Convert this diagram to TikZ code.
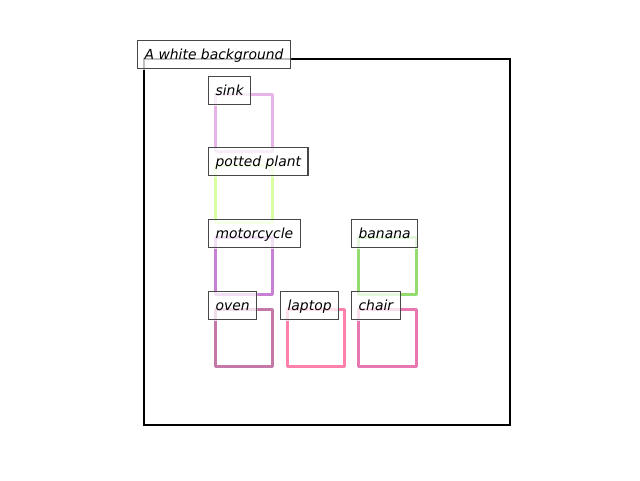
\documentclass[tikz,border=0pt]{standalone}
\usepackage{fontspec}
\setmainfont{DejaVu Sans}
\definecolor{csink}{HTML}{E8B4E8}
\definecolor{cplant}{HTML}{D8FFA0}
\definecolor{cmoto}{HTML}{C880D4}
\definecolor{coven}{HTML}{C478A8}
\definecolor{claptop}{HTML}{FF80A8}
\definecolor{cchair}{HTML}{E878B2}
\definecolor{cbanana}{HTML}{94DC70}
\newcommand\myrects[1]{%
  \draw[frame,draw=black!#1] (144,59) rectangle (510,425);
  \draw[objbox,draw=csink!#1] (215,94) rectangle (272,151);
  \draw[objbox,draw=cplant!#1] (215,165) rectangle (272,222);
  \draw[objbox,draw=cmoto!#1] (215,237) rectangle (272,294);
  \draw[objbox,draw=coven!#1] (215,309) rectangle (272,366);
  \draw[objbox,draw=claptop!#1] (287,309) rectangle (344,366);
  \draw[objbox,draw=cchair!#1] (358,309) rectangle (416,366);
  \draw[objbox,draw=cbanana!#1] (358,237) rectangle (416,294);}
\newcommand\mylab[3]{%
  \node[lbl,fill=white,draw=none,text opacity=0] (#1) at (#2) {#3};
  \begin{scope}
    \clip (#1.south west) rectangle (#1.north east);
    \myrects{25}
  \end{scope}
  \node[lbl] (#1-t) at (#2) {#3};}
\begin{document}
\begin{tikzpicture}[x=1pt,y=-1pt,
  frame/.style={draw=black,line width=2.4pt},
  objbox/.style={line width=3pt,line join=round},
  lbl/.style={draw=black!72,line width=1.2pt,
    anchor=north west,inner xsep=7pt,inner ysep=0pt,text height=18.5pt,text depth=9.5pt,
    font=\fontsize{13.9}{16}\selectfont\itshape}]
\useasboundingbox (0,0) rectangle (640,480);
\myrects{100}
\mylab{title}{137,40}{A white background}
\mylab{sink}{208,76}{sink}
\mylab{plant}{208,147}{potted plant}
\mylab{moto}{208,219}{motorcycle}
\mylab{banana}{351,219}{banana}
\mylab{oven}{208,291}{oven}
\mylab{laptop}{280,291}{laptop}
\mylab{chair}{351,291}{chair}
\end{tikzpicture}
\end{document}
